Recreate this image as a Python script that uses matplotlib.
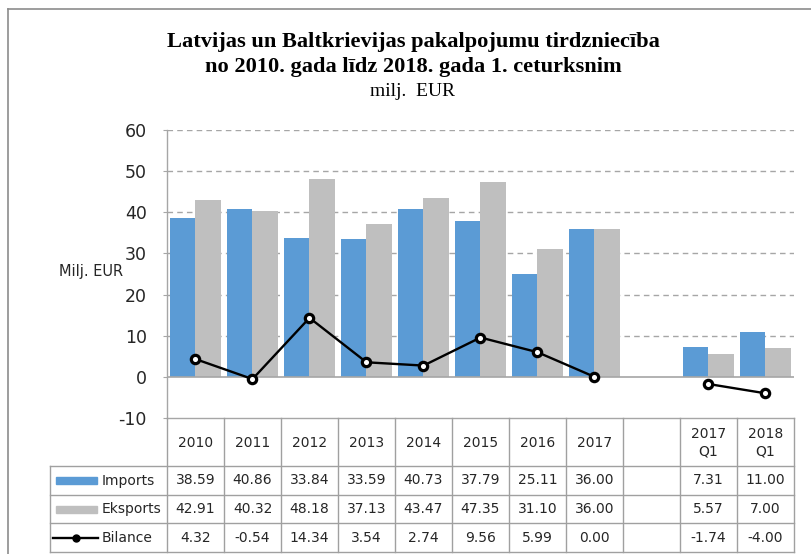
import matplotlib
matplotlib.use("Agg")
import matplotlib.pyplot as plt
from matplotlib.lines import Line2D
from matplotlib.patches import Rectangle
import numpy as np

categories = ["2010", "2011", "2012", "2013", "2014", "2015", "2016", "2017", "", "2017\nQ1", "2018\nQ1"]
imports = [38.59, 40.86, 33.84, 33.59, 40.73, 37.79, 25.11, 36.00, None, 7.31, 11.00]
eksports = [42.91, 40.32, 48.18, 37.13, 43.47, 47.35, 31.10, 36.00, None, 5.57, 7.00]
bilance = [4.32, -0.54, 14.34, 3.54, 2.74, 9.56, 5.99, 0.00, None, -1.74, -4.00]
series_names = ["Imports", "Eksports", "Bilance"]
yticks = [-10, 0, 10, 20, 30, 40, 50, 60]

title1 = "Latvijas un Baltkrievijas pakalpojumu tirdzniecība"
title2 = "no 2010. gada līdz 2018. gada 1. ceturksnim"
subtitle = "milj.  EUR"
ylabel = "Milj. EUR"

BLUE = "#5B9BD5"
GRAY = "#BFBFBF"
GRID = "#A6A6A6"
TXT = "#262626"

W, H = 812, 554
fig = plt.figure(figsize=(W / 100, H / 100), dpi=100)
plt.rcParams['font.family'] = ['DejaVu Sans']

# pixel layout
px_left, px_right = 167, 794
px_top, px_bot = 130, 418
tab_left, tab_bot = 50, 552

def fx(px):
    return px / W

def fy(py):
    return 1 - py / H

n = len(categories)
x = np.arange(n)
imp = np.array([np.nan if v is None else v for v in imports])
eks = np.array([np.nan if v is None else v for v in eksports])
bil = np.array([np.nan if v is None else v for v in bilance])

ax = fig.add_axes([fx(px_left), fy(px_bot), fx(px_right - px_left), (px_bot - px_top) / H])
ax.set_xlim(-0.5, n - 0.5)
ax.set_ylim(-10, 60)
bw = 0.44
ax.bar(x - bw / 2, imp, width=bw, color=BLUE, zorder=2)
ax.bar(x + bw / 2, eks, width=bw, color=GRAY, zorder=2)
ax.plot(x, bil, color="black", lw=1.7, marker="o", ms=6, mfc="white", mec="black", mew=2.3, zorder=4)
ax.axhline(0, color=GRID, lw=1.2, zorder=3)
ax.set_yticks(yticks)
ax.set_yticklabels([str(t) for t in yticks], fontsize=12.5, color=TXT)
for t in yticks[2:]:
    ax.axhline(t, color=GRID, lw=1.0, ls=(0, (4, 3)), zorder=1)
ax.tick_params(axis="y", length=3, color=GRID, pad=11.5)
ax.set_xticks([])
for s in ["top", "right"]:
    ax.spines[s].set_visible(False)
for s in ["left", "bottom"]:
    ax.spines[s].set_color(GRID)
    ax.spines[s].set_linewidth(1.0)
fig.text(fx(91), fy(271), ylabel, ha="center", va="center", fontsize=10.5, color=TXT)

# data table
cat_px = (px_right - px_left) / n
xl = -0.5 - (px_left - tab_left) / cat_px
tax = fig.add_axes([fx(tab_left), fy(tab_bot), fx(px_right - tab_left), (tab_bot - px_bot) / H])
tax.set_xlim(xl, n - 0.5)
tax.set_ylim(tab_bot, px_bot)
tax.axis("off")
row_y = [px_bot, 466, 495, 523, tab_bot]
LC = "#A0A0A0"
for yy in row_y[1:]:
    tax.plot([xl, n - 0.5], [yy, yy], color=LC, lw=1.0, clip_on=False)
tax.plot([xl, xl], [row_y[1], tab_bot], color=LC, lw=1.0, clip_on=False)
for b in np.arange(n + 1) - 0.5:
    tax.plot([b, b], [px_bot, tab_bot], color=LC, lw=1.0, clip_on=False)

hy = (row_y[0] + row_y[1]) / 2
for i, c in enumerate(categories):
    tax.text(i, hy + 1, c, ha="center", va="center", multialignment="center",
             fontsize=10, color=TXT, linespacing=1.3)

rows = [imp, eks, bil]
for r, vals in enumerate(rows):
    cy = (row_y[r + 1] + row_y[r + 2]) / 2
    for i, v in enumerate(vals):
        if not np.isnan(v):
            tax.text(i, cy, f"{v:.2f}", ha="center", va="center", fontsize=10, color=TXT)
    tax.text(xl + (102 - tab_left) / cat_px, cy, series_names[r], ha="left", va="center",
             fontsize=10, color=TXT)

k0 = xl + (56 - tab_left) / cat_px
k1 = xl + (97 - tab_left) / cat_px
for r, col in enumerate([BLUE, GRAY]):
    cy = (row_y[r + 1] + row_y[r + 2]) / 2
    tax.add_patch(Rectangle((k0, cy - 3.5), k1 - k0, 7, color=col, clip_on=False))
cy = (row_y[3] + row_y[4]) / 2
kb0 = xl + (53 - tab_left) / cat_px
kb1 = xl + (98 - tab_left) / cat_px
tax.plot([kb0, kb1], [cy, cy], color="black", lw=1.7, clip_on=False)
tax.plot([(kb0 + kb1) / 2], [cy], marker="o", ms=5, mfc="black", mec="black", mew=1, clip_on=False)

# titles
fig.text(fx(413), fy(42), title1, ha="center", va="center", fontsize=16.1, fontweight="bold",
         family="Liberation Serif", color="black")
fig.text(fx(413), fy(67), title2, ha="center", va="center", fontsize=16.1, fontweight="bold",
         family="Liberation Serif", color="black")
fig.text(fx(413), fy(91), subtitle, ha="center", va="center", fontsize=14,
         family="Liberation Serif", color="black")

# outer chart border (cropped at right and bottom)
fig.add_artist(Line2D([fx(8.5), 1.0], [fy(8.5), fy(8.5)], color="#8C8C8C", lw=1.2))
fig.add_artist(Line2D([fx(8.5), fx(8.5)], [0.0, fy(8.5)], color="#8C8C8C", lw=1.2))

fig.savefig("out.png", dpi=100)
